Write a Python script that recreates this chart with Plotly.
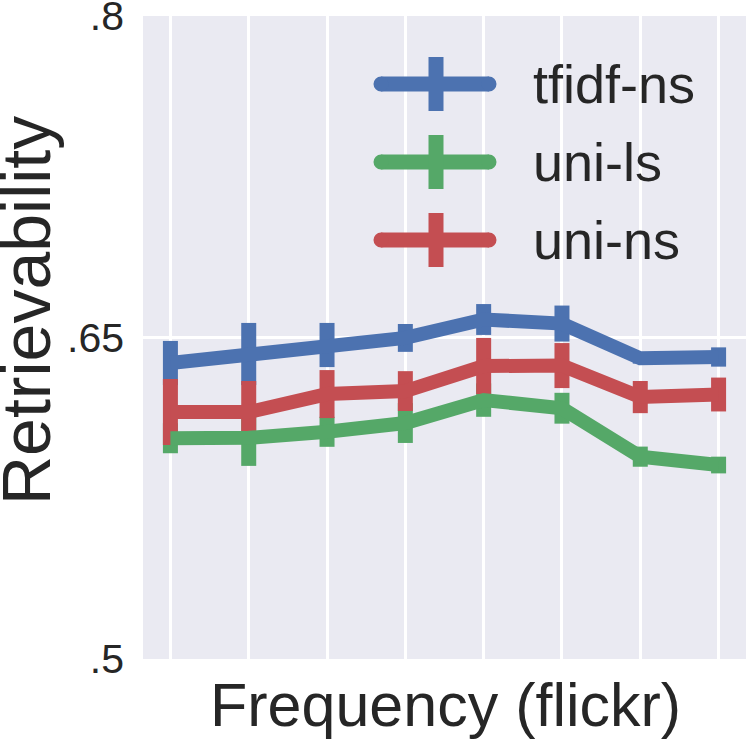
import plotly.graph_objects as go

# ---- data ----
freq_bins = [0, 1, 2, 3, 4, 5, 6, 7]
series_names = ["tfidf-ns", "uni-ls", "uni-ns"]
series_colors = ["#4C72B0", "#55A868", "#C44E52"]

tfidf_ns = [0.6381, 0.6423, 0.6465, 0.6498, 0.6584, 0.6565, 0.6403, 0.6409]
tfidf_ns_err = [0.0103, 0.0145, 0.0103, 0.0065, 0.0072, 0.0084, 0.0025, 0.0045]

uni_ls = [0.6030, 0.6032, 0.6060, 0.6101, 0.6208, 0.6170, 0.5944, 0.5905]
uni_ls_err = [0.0070, 0.0131, 0.0070, 0.0093, 0.0078, 0.0072, 0.0047, 0.0039]

uni_ns = [0.6152, 0.6152, 0.6236, 0.6250, 0.6367, 0.6369, 0.6222, 0.6234]
uni_ns_err = [0.0154, 0.0145, 0.0112, 0.0093, 0.0131, 0.0105, 0.0075, 0.0079]

y_tickvals = [0.5, 0.65, 0.8]
y_ticktext = [".5", ".65", ".8"]
x_title = "Frequency (flickr)"
y_title = "Retrievability"

values = [tfidf_ns, uni_ls, uni_ns]
errors = [tfidf_ns_err, uni_ls_err, uni_ns_err]

FONT = "Liberation Sans, Arial, sans-serif"
TXT = "#262626"
W, H = 747, 743
ML, MR, MT, MB = 143, 1, 16, 84
PW, PH = W - ML - MR, H - MT - MB

fig = go.Figure()

# error bars first (all series), then the lines on top
for name, col, v, e in zip(series_names, series_colors, values, errors):
    fig.add_trace(go.Scatter(
        x=freq_bins, y=v, mode="markers",
        marker=dict(color="rgba(0,0,0,0)", size=1),
        error_y=dict(type="data", array=e, visible=True, thickness=15, width=0, color=col),
        showlegend=False, hoverinfo="skip"))
for name, col, v in zip(series_names, series_colors, values):
    fig.add_trace(go.Scatter(
        x=freq_bins, y=v, mode="lines", name=name,
        line=dict(color=col, width=14), showlegend=False))

# ---- manual legend (pixel-sized shapes anchored at top-left of plot area) ----
shapes = []
annotations = []
row_y = [84, 162, 240]          # pixel centres (from top of figure)
line_x0, line_x1 = 381, 489     # pixel x of the line core
cross_x = 436
for name, col, yc in zip(series_names, series_colors, row_y):
    oy = -(yc - MT)
    common = dict(xref="paper", yref="paper", xanchor=0, yanchor=1,
                  xsizemode="pixel", ysizemode="pixel", layer="above")
    shapes.append(dict(type="line", x0=line_x0 - ML, x1=line_x1 - ML, y0=oy, y1=oy,
                       line=dict(color=col, width=15), **common))
    for cx in (line_x0, line_x1):
        shapes.append(dict(type="circle", x0=cx - ML - 7.5, x1=cx - ML + 7.5,
                           y0=oy - 7.5, y1=oy + 7.5, fillcolor=col,
                           line=dict(width=0), **common))
    shapes.append(dict(type="rect", x0=cross_x - ML - 7.5, x1=cross_x - ML + 7.5,
                       y0=oy - 27, y1=oy + 27, fillcolor=col,
                       line=dict(width=0), **common))
    annotations.append(dict(
        text=name, xref="paper", yref="paper",
        x=(531 - ML) / PW, y=1 - (yc - MT) / PH,
        xanchor="left", yanchor="middle", showarrow=False,
        font=dict(family=FONT, size=54, color=TXT)))

# axis titles
annotations.append(dict(
    text=x_title, xref="paper", yref="paper", x=(445 - ML) / PW, y=-(705 - (H - MB)) / PH,
    xanchor="center", yanchor="middle", showarrow=False,
    font=dict(family=FONT, size=61, color=TXT)))
annotations.append(dict(
    text=y_title, xref="paper", yref="paper", x=-(ML - 26) / PW, y=1 - (311 - MT) / PH,
    xanchor="center", yanchor="middle", textangle=-90, showarrow=False,
    font=dict(family=FONT, size=68, color=TXT)))

fig.update_layout(
    width=W, height=H,
    margin=dict(l=ML, r=MR, t=MT, b=MB, pad=0, autoexpand=False),
    paper_bgcolor="white", plot_bgcolor="#EAEAF2",
    font=dict(family=FONT, color=TXT),
    shapes=shapes, annotations=annotations,
    showlegend=False,
)
fig.update_xaxes(range=[-0.35, 7.35], tickvals=freq_bins, showticklabels=False,
                 showgrid=True, gridcolor="white", gridwidth=2.5, automargin=False,
                 zeroline=False, showline=False, ticks="")
fig.update_yaxes(range=[0.5, 0.8], tickvals=y_tickvals, ticktext=y_ticktext,
                 tickfont=dict(family=FONT, size=41, color=TXT), automargin=False,
                 ticklabeloverflow="allow",
                 showgrid=True, gridcolor="white", gridwidth=2.5,
                 zeroline=False, showline=False, ticks="", ticklabelstandoff=18)

fig.write_html("out.html",
               config={"displayModeBar": False},
               post_script="document.body.style.margin='0';"
                           "document.body.style.overflow='hidden';")
